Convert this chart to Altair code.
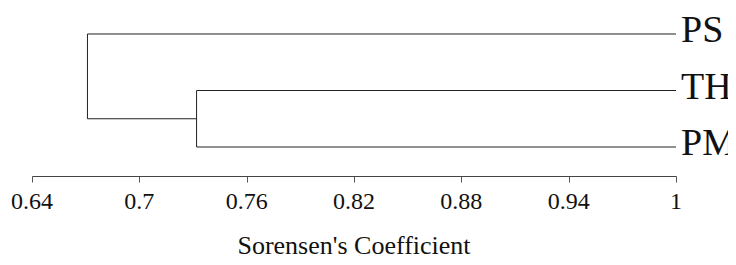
import altair as alt
import pandas as pd

leaves = ["PS", "TH", "PM"]
leaf_pos = [0, 1, 2]
inner_height = 0.732   # TH + PM merge
root_height = 0.671    # (TH,PM) + PS merge
tick_values = [0.64, 0.7, 0.76, 0.82, 0.88, 0.94, 1.0]
tick_labels = ["0.64", "0.7", "0.76", "0.82", "0.88", "0.94", "1"]
x_title = "Sorensen's Coefficient"

FONT = "Liberation Serif"

mid = (leaf_pos[1] + leaf_pos[2]) / 2
segs = pd.DataFrame([
    {"x": root_height, "x2": 1.0, "y": leaf_pos[0], "y2": leaf_pos[0]},
    {"x": inner_height, "x2": 1.0, "y": leaf_pos[1], "y2": leaf_pos[1]},
    {"x": inner_height, "x2": 1.0, "y": leaf_pos[2], "y2": leaf_pos[2]},
    {"x": inner_height, "x2": inner_height, "y": leaf_pos[1], "y2": leaf_pos[2]},
    {"x": root_height, "x2": inner_height, "y": mid, "y2": mid},
    {"x": root_height, "x2": root_height, "y": leaf_pos[0], "y2": mid},
])
labels = pd.DataFrame({"name": leaves, "y": leaf_pos, "x": [1.0] * 3})
ticks = pd.DataFrame({"v": tick_values, "lab": tick_labels})
title_df = pd.DataFrame({"t": [x_title]})

xscale = alt.Scale(domain=[0.64, 1.0], nice=False, zero=False)
yscale = alt.Scale(domain=[-0.46, 2.513], reverse=True, nice=False, zero=False)

xaxis = alt.Axis(
    values=tick_values, labels=False, title=None,
    grid=False, domainColor="#444444", tickColor="#555555", tickSize=6)

lines = alt.Chart(segs).mark_rule(color="#222222", strokeWidth=1).encode(
    x=alt.X("x:Q", scale=xscale, axis=xaxis),
    x2="x2:Q",
    y=alt.Y("y:Q", scale=yscale, axis=None),
    y2="y2:Q",
)

text = alt.Chart(labels).mark_text(
    align="left", baseline="alphabetic", dx=5, dy=8,
    font=FONT, fontSize=38, color="#111111"
).encode(
    x=alt.X("x:Q", scale=xscale, axis=xaxis),
    y=alt.Y("y:Q", scale=yscale, axis=None),
    text="name:N",
)

tick_text = alt.Chart(ticks).mark_text(
    align="center", baseline="alphabetic",
    font=FONT, fontSize=24, color="#111111"
).encode(
    x=alt.X("v:Q", scale=xscale, axis=xaxis),
    y=alt.value(201),
    text="lab:N",
)

title_text = alt.Chart(title_df).mark_text(
    align="center", baseline="alphabetic",
    font=FONT, fontSize=26, color="#111111"
).encode(
    x=alt.value(322),
    y=alt.value(246),
    text="t:N",
)

chart = (lines + text + tick_text + title_text).properties(
    width=644, height=168,
    background="white",
    autosize=alt.AutoSizeParams(type="none"),
    padding={"left": 24, "top": 0, "right": 52, "bottom": 81},
).configure(
    font=FONT,
    view=alt.ViewConfig(stroke=None),
)

chart.save("out.html", embed_options={"renderer": "svg", "actions": False})
